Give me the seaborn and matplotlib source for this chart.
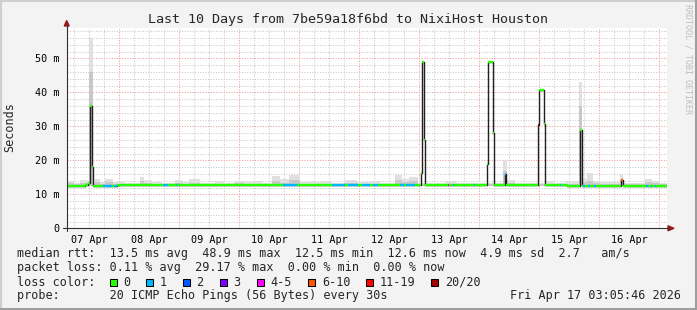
import numpy as np
import pandas as pd
import matplotlib
matplotlib.use("Agg")
import matplotlib.pyplot as plt
import matplotlib.dates as mdates
import matplotlib.ticker as mticker
from matplotlib.patches import Polygon, Rectangle
from matplotlib.lines import Line2D
import seaborn as sns

# ---------------- data ----------------
TITLE = "Last 10 Days from 7be59a18f6bd to NixiHost Houston"
START = "2026-04-07 03:05:46"
SPAN_HOURS = 240

# median rtt, step segments: start (hours after START), value (ms), loss bucket
med_hours = [0.0, 7.3, 8.5, 9.2, 9.5, 10.1, 10.4, 14.6, 18.0, 18.9, 20.0,
             38.5, 40.5, 43.9, 44.3, 86.5, 92.1, 106.1, 111.3, 112.5, 116.5,
             118.1, 121.3, 122.5, 124.5, 133.3, 134.9, 135.7, 139.3,
             141.7, 142.2, 143.0, 143.4, 152.5, 152.9, 154.5, 154.9, 162.9, 163.3,
             168.2, 168.6, 170.4, 170.8, 175.3, 175.9,
             188.6, 189.0, 191.0, 191.4, 197.3, 197.7, 200.1,
             205.2, 206.0, 206.5, 207.3, 208.5, 209.3, 210.9, 211.7,
             219.7, 221.6, 222.4, 231.9, 232.5, 233.7, 234.3, 235.3, 235.9]
med_ms = [12.5, 12.7, 13.3, 14.5, 36.0, 18.0, 12.5, 12.5, 12.5, 12.5, 12.6,
          12.6, 12.6, 12.6, 12.6, 12.7, 12.7, 12.7, 12.7, 12.7, 12.7,
          12.7, 12.7, 12.7, 12.8, 12.8, 12.8, 12.8, 12.8,
          16.2, 48.9, 26.0, 12.8, 12.8, 12.8, 12.8, 12.8, 12.8, 12.8,
          19.0, 48.9, 28.0, 12.8, 16.0, 12.8,
          30.5, 40.8, 30.6, 12.8, 12.8, 12.8, 12.5,
          29.0, 12.5, 12.5, 12.5, 12.5, 12.5, 12.5, 12.5,
          12.3, 14.3, 12.5, 12.5, 12.5, 12.5, 12.5, 12.5, 12.5]
med_loss = [0, 0, 0, 0, 0, 0, 0, 1, 0, 1, 0,
            1, 0, 1, 0, 1, 0, 1, 0, 1, 0,
            1, 0, 1, 0, 1, 0, 1, 0,
            0, 0, 0, 0, 4, 0, 1, 0, 1, 0,
            0, 0, 0, 0, 1, 0,
            7, 0, 0, 0, 1, 0, 0,
            0, 0, 1, 0, 1, 0, 1, 0,
            0, 5, 0, 1, 0, 1, 0, 1, 0]

# smoke (ping spread), step segments: start hour, outer top, inner top, dense top
smoke_hours = [0.0, 3.0, 5.5, 8.5, 9.1, 10.4, 11.3, 13.5, 15.5, 18.6, 23.3,
               29.3, 31.0, 34.1, 38.0, 43.3, 46.0, 49.0, 53.3,
               59.3, 63.0, 67.0, 71.0, 75.0, 78.1, 82.1, 85.5, 89.0, 93.3,
               101.3, 106.0, 111.0, 116.0, 121.0, 125.3, 131.3, 134.0, 137.0, 140.5,
               151.3, 156.0, 161.3, 174.5, 176.1, 179.3, 191.7, 195.0, 199.3,
               205.1, 206.1, 208.0, 210.5, 213.3, 221.5, 222.6, 231.3, 234.0, 237.3]
smoke_outer = [13.9, 13.4, 14.2, 13.6, 56.0, 13.6, 14.4, 13.7, 14.6, 13.6, 13.4,
               15.0, 14.2, 13.6, 13.3, 14.2, 13.6, 14.4, 13.3,
               13.8, 13.4, 14.0, 13.5, 13.9, 13.3, 15.3, 14.4, 15.6, 13.5,
               13.9, 13.4, 14.1, 13.5, 13.9, 13.3, 15.6, 14.6, 15.2, 13.3,
               13.9, 13.4, 13.4, 20.0, 14.3, 13.3, 13.9, 13.4, 13.8,
               43.0, 14.4, 16.3, 13.9, 13.5, 15.6, 13.4, 14.6, 14.0, 13.3]
smoke_inner = [13.2, 12.9, 13.4, 13.0, 46.0, 13.0, 13.5, 13.1, 13.6, 13.0, 12.9,
               13.9, 13.3, 13.0, 12.9, 13.3, 13.0, 13.4, 12.9,
               13.1, 12.9, 13.2, 12.9, 13.1, 12.9, 14.0, 13.4, 14.2, 12.9,
               13.1, 12.9, 13.2, 12.9, 13.1, 12.9, 14.2, 13.5, 13.9, 12.9,
               13.1, 12.9, 12.9, 17.0, 13.4, 12.9, 13.1, 12.9, 13.1,
               36.0, 13.5, 14.0, 13.2, 12.9, 14.6, 12.9, 13.6, 13.2, 12.9]
smoke_dense = [None, None, None, None, 36.0, None, None, None, None, None, None,
               None, None, None, None, None, None, None, None,
               None, None, None, None, None, None, None, None, None, None,
               None, None, None, None, None, None, None, None, None, None,
               None, None, None, 16.0, None, None, None, None, None,
               29.0, None, None, None, None, 14.3, None, None, None, None]
SMOKE_FLOOR = 12.3

loss_labels = ["0", "1", "2", "3", "4-5", "6-10", "11-19", "20/20"]
loss_colors = ["#26ff00", "#00b8ff", "#0059ff", "#7e00ff", "#ff00ff",
               "#ff5500", "#ff0000", "#a10000"]

stats_rtt = "median rtt:  13.5 ms avg  48.9 ms max  12.5 ms min  12.6 ms now  4.9 ms sd  2.7   am/s"
stats_loss = "packet loss: 0.11 % avg  29.17 % max  0.00 % min  0.00 % now"
loss_title = "loss color:"
probe_text = "probe:       20 ICMP Echo Pings (56 Bytes) every 30s"
stamp_text = "Fri Apr 17 03:05:46 2026"
ylabel_text = "Seconds"
watermark = "RRDTOOL / TOBI OETIKER"

# ---------------- style ----------------
sns.set_style("white")
plt.rcParams["font.family"] = ["DejaVu Sans Mono"]

W, H = 697, 310
BG = "#f3f3f3"
fig = plt.figure(figsize=(W / 100, H / 100), dpi=100, facecolor=BG)


def fx(x):
    return x / W


def fy(y):
    return 1 - y / H


PX = 3.4  # px per ms
ax = fig.add_axes([fx(66.7), fy(228.3), 600 / W, 59 * PX / H])
ax.set_facecolor("white")

t0 = pd.Timestamp(START)
t_end = t0 + pd.Timedelta(hours=SPAN_HOURS)

med_t = mdates.date2num(t0 + pd.to_timedelta(med_hours + [SPAN_HOURS], unit="h"))
smk_t = mdates.date2num(t0 + pd.to_timedelta(smoke_hours + [SPAN_HOURS], unit="h"))


def ext(v):
    a = np.array(v, dtype=float)
    return np.append(a, a[-1])


# smoke
ax.fill_between(smk_t, SMOKE_FLOOR, ext(smoke_outer), step="post",
                color="#e0e0e0", lw=0, zorder=2)
ax.fill_between(smk_t, SMOKE_FLOOR, ext(smoke_inner), step="post",
                color="#c8c8c8", lw=0, zorder=2.1)
dense = ext(smoke_dense)
ax.fill_between(smk_t, SMOKE_FLOOR, np.nan_to_num(dense, nan=SMOKE_FLOOR),
                where=~np.isnan(dense), step="post",
                color="#262626", lw=0, zorder=2.2)

# median black step line
df = pd.DataFrame({"t": med_t, "ms": ext(med_ms)})
sns.lineplot(data=df, x="t", y="ms", drawstyle="steps-post", color="#202020",
             lw=1.0, ax=ax, zorder=3, estimator=None, sort=False)

# loss-coloured median segments
ax.hlines(med_ms, med_t[:-1], med_t[1:],
          colors=[loss_colors[i] for i in med_loss], lw=1.7, zorder=4)

ax.set_xlim(mdates.date2num(t0), mdates.date2num(t_end))
ax.set_ylim(0, 59)
ax.set_xlabel("")
ax.set_ylabel("")

# ticks & grid
ax.xaxis.set_major_locator(mdates.HourLocator(byhour=[0]))
ax.xaxis.set_minor_locator(mdates.HourLocator(byhour=[6, 12, 18]))
ax.xaxis.set_major_formatter(mticker.NullFormatter())


def xfmt(v, p):
    d = mdates.num2date(v)
    return d.strftime("%d %b") if d.hour == 12 else ""


ax.xaxis.set_minor_formatter(mticker.FuncFormatter(xfmt))
ax.yaxis.set_major_locator(mticker.MultipleLocator(10))
ax.yaxis.set_minor_locator(mticker.MultipleLocator(2))
ax.yaxis.set_major_formatter(mticker.FuncFormatter(
    lambda v, p: "0" if v == 0 else f"{v:.0f} m"))

ax.set_axisbelow(True)
ax.grid(which="minor", color="#c9c9c9", ls=(0, (1, 1.5)), lw=0.75)
ax.grid(which="major", color="#f29a9a", ls=(0, (1, 1.5)), lw=0.75)

ax.tick_params(axis="both", which="both", direction="out", color="#303030",
               width=0.7, labelsize=7.3, labelcolor="black")
ax.tick_params(axis="y", which="major", length=2.5, pad=2.8)
ax.tick_params(axis="y", which="minor", length=1.2)
ax.tick_params(axis="x", which="major", length=2.5)
ax.tick_params(axis="x", which="minor", length=1.5, pad=3.2)

for s in ax.spines.values():
    s.set_visible(False)

# axis lines + arrows
AX_C = "#303030"
ARROW_C = "#9a1c1c"
fig.add_artist(Line2D([fx(63), fx(669)], [fy(228.3), fy(228.3)], color=AX_C,
                      lw=0.8, transform=fig.transFigure))
fig.add_artist(Line2D([fx(66.7), fx(66.7)], [fy(231), fy(25)], color=AX_C,
                      lw=0.8, transform=fig.transFigure))
fig.add_artist(Polygon([(fx(668), fy(225.8)), (fx(674), fy(228.3)),
                        (fx(668), fy(230.8))], closed=True, color=ARROW_C,
                       transform=fig.transFigure))
fig.add_artist(Polygon([(fx(64.2), fy(26)), (fx(66.7), fy(20.5)),
                        (fx(69.2), fy(26))], closed=True, color=ARROW_C,
                       transform=fig.transFigure))

# frame shading
fig.add_artist(Line2D([0, 1], [fy(1), fy(1)], color="#cfcfcf", lw=1.5,
                      transform=fig.transFigure))
fig.add_artist(Line2D([fx(1), fx(1)], [0, 1], color="#cfcfcf", lw=1.5,
                      transform=fig.transFigure))
fig.add_artist(Line2D([0, 1], [fy(309), fy(309)], color="#9e9e9e", lw=1.5,
                      transform=fig.transFigure))
fig.add_artist(Line2D([fx(696), fx(696)], [0, 1], color="#9e9e9e", lw=1.5,
                      transform=fig.transFigure))

# texts
fig.text(fx(347.5), fy(19.5), TITLE, ha="center", va="center", fontsize=9.6)
fig.text(fx(10), fy(127), ylabel_text, rotation=90, ha="center", va="center",
         fontsize=8.5)
fig.text(fx(688), fy(59), watermark, rotation=270, ha="center", va="center",
         fontsize=6, color="#bdbdbd")

LEG_FS = 8.5
fig.text(fx(16.7), fy(254), stats_rtt, ha="left", va="center", fontsize=LEG_FS)
fig.text(fx(16.7), fy(268), stats_loss, ha="left", va="center", fontsize=LEG_FS)
fig.text(fx(16.7), fy(282), loss_title, ha="left", va="center", fontsize=LEG_FS)
box_x = [109.5, 145.5, 182.5, 219.5, 256.5, 308.0, 366.0, 431.0]
for bx, lab, col in zip(box_x, loss_labels, loss_colors):
    fig.add_artist(Rectangle((fx(bx), fy(285.5)), 7 / W, 7 / H, facecolor=col,
                             edgecolor="black", lw=0.75,
                             transform=fig.transFigure))
    fig.text(fx(bx + 14), fy(282), lab, ha="left", va="center", fontsize=LEG_FS)
fig.text(fx(16.7), fy(296), probe_text, ha="left", va="center", fontsize=LEG_FS)
fig.text(fx(681), fy(296), stamp_text, ha="right", va="center", fontsize=LEG_FS)

fig.savefig("out.png", dpi=100, facecolor=BG)
